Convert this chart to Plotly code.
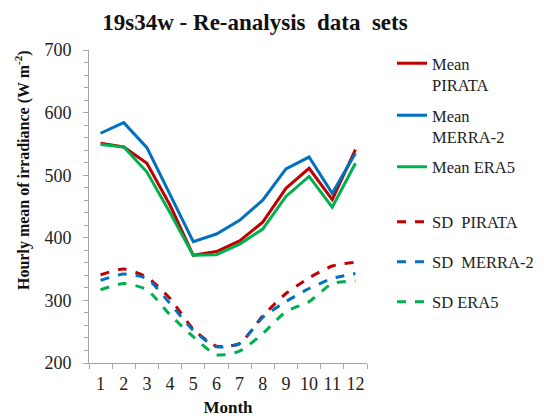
import plotly.graph_objects as go

months = [str(m) for m in range(1, 13)]

mean_pirata = [551, 545, 519, 452, 372, 378, 395, 425, 479, 511, 461, 541]
mean_merra2 = [567, 584, 544, 468, 394, 406, 428, 460, 510, 529, 471, 535]
mean_era5 = [549, 545, 505, 440, 372, 373, 390, 414, 466, 498, 449, 519]

sd_pirata = [341, 350, 337, 303, 254, 227, 231, 275, 311, 336, 355, 361]
sd_merra2 = [332, 342, 335, 295, 252, 226, 231, 273, 298, 319, 335, 343]
sd_era5 = [317, 327, 317, 277, 242, 213, 219, 247, 282, 298, 327, 331]

RED = "#C00000"
BLUE = "#0070C0"
GREEN = "#00B050"
FONT = "Liberation Serif, Times New Roman, serif"

# the page puts the figure 8px in from the window corner
W, H, OFF = 536, 410, 8

series = [
    ("Mean<br>PIRATA", mean_pirata, RED, "solid", "linear"),
    ("Mean<br>MERRA-2", mean_merra2, BLUE, "solid", "linear"),
    ("Mean ERA5", mean_era5, GREEN, "solid", "linear"),
    ("SD  PIRATA", sd_pirata, RED, "dash", "spline"),
    ("SD  MERRA-2", sd_merra2, BLUE, "dash", "spline"),
    ("SD ERA5", sd_era5, GREEN, "dash", "spline"),
]

# legend line heights in the window (px from top)
legend_y = [63, 115, 167, 222, 262, 302]

fig = go.Figure()
layout_legends = {}
for i, (name, vals, col, dash, shape) in enumerate(series):
    key = "legend" if i == 0 else f"legend{i + 1}"
    fig.add_trace(
        go.Scatter(
            x=months,
            y=vals,
            name=name,
            mode="lines",
            line=dict(color=col, width=3, dash=dash, shape=shape, smoothing=0.6),
            legend=key,
        )
    )
    multi = "<br>" in name
    top = legend_y[i] - 25 if multi else legend_y[i] - OFF
    layout_legends[key] = dict(
        xref="container",
        yref="container",
        x=(392 - OFF) / W,
        xanchor="left",
        y=1 - top / H,
        yanchor="top" if multi else "middle",
        valign="top",
        font=dict(family=FONT, size=16.5, color="#222"),
        bgcolor="rgba(0,0,0,0)",
        itemwidth=30,
    )

fig.update_layout(
    width=W,
    height=H,
    paper_bgcolor="white",
    plot_bgcolor="white",
    margin=dict(l=81, r=177, t=42, b=55, autoexpand=False),
    font=dict(family=FONT, size=18, color="#222"),
    title=dict(
        text="<b>19s34w - Re-analysis  data  sets</b>",
        xref="container",
        x=(255 - OFF) / W,
        xanchor="center",
        y=1 - (22 - OFF) / H,
        yanchor="middle",
        font=dict(family=FONT, size=23, color="#111"),
    ),
    showlegend=True,
    **layout_legends,
)

fig.update_xaxes(
    type="category",
    range=[-0.5, len(months) - 0.5],
    tickson="boundaries",
    ticks="outside",
    ticklen=5,
    tickcolor="#A6A6A6",
    tickangle=0,
    ticklabelstandoff=4,
    showline=True,
    linecolor="#A6A6A6",
    showgrid=False,
    tickfont=dict(family=FONT, size=18, color="#222"),
    title=dict(text="<b>Month</b>", font=dict(family=FONT, size=17, color="#111"), standoff=8),
)

fig.update_yaxes(
    range=[200, 700],
    dtick=100,
    ticks="outside",
    ticklen=5,
    tickcolor="#A6A6A6",
    ticklabelstandoff=8,
    showline=True,
    linecolor="#A6A6A6",
    showgrid=False,
    zeroline=False,
    minor=dict(dtick=20, ticks="outside", ticklen=4, tickcolor="#A6A6A6", showgrid=False),
    tickfont=dict(family=FONT, size=18, color="#222"),
)

fig.add_annotation(
    text="<b>Hourly mean of irradiance (W m<sup>-2</sup>)</b>",
    xref="paper",
    yref="paper",
    x=-67 / 278,
    xanchor="center",
    y=(363 - 170) / 313,
    yanchor="middle",
    textangle=-90,
    showarrow=False,
    font=dict(family=FONT, size=16, color="#111"),
)

fig.write_html("out.html")
